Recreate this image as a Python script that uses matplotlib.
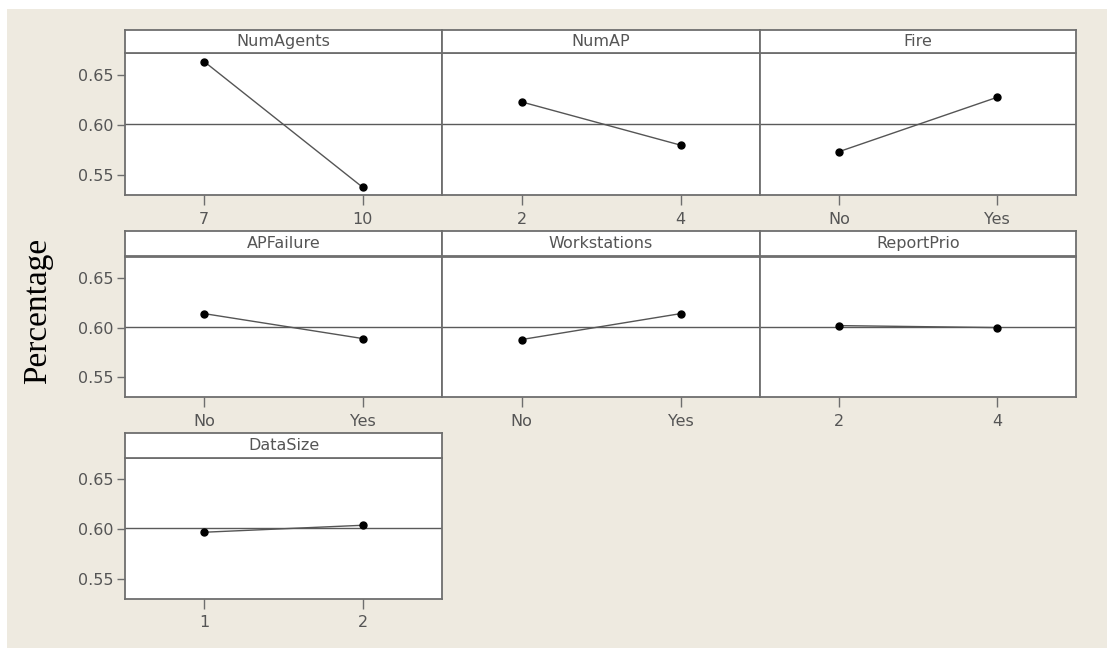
import matplotlib
matplotlib.use("Agg")
import matplotlib.pyplot as plt
from matplotlib.patches import Rectangle

# main effects: mean percentage at each factor level
factors = ["NumAgents", "NumAP", "Fire", "APFailure", "Workstations", "ReportPrio", "DataSize"]
levels = [["7", "10"], ["2", "4"], ["No", "Yes"], ["No", "Yes"],
          ["No", "Yes"], ["2", "4"], ["1", "2"]]
means = [[0.663, 0.538], [0.623, 0.580], [0.5735, 0.6275], [0.614, 0.589],
         [0.588, 0.614], [0.602, 0.600], [0.597, 0.604]]
grand_mean = 0.601
yticks = [0.55, 0.60, 0.65]

W, H = 1107, 648
BEIGE = "#EEEAE0"
FRAME = "#6E6E6E"
TXT = "#555555"

# panel geometry in pixels: (strip top, strip bottom, frame bottom) and (left, right)
rows = [(30, 53.3, 195), (230.7, 256.5, 397), (432.7, 458.3, 598.5)]
cols = [(125, 442), (442, 760), (760, 1076)]


def rect(x0, y0, x1, y1):
    return [x0 / W, 1 - y1 / H, (x1 - x0) / W, (y1 - y0) / H]


fig = plt.figure(figsize=(W / 100, H / 100), dpi=100)
fig.patch.set_facecolor("white")
fig.patches.append(Rectangle((7 / W, 0), 1 - 7 / W, 1 - 9 / H, transform=fig.transFigure,
                             facecolor=BEIGE, edgecolor="none", zorder=-5))

for i, name in enumerate(factors):
    r, c = divmod(i, 3)
    top, mid, bot = rows[r]
    x0, x1 = cols[c]

    ax = fig.add_axes(rect(x0, mid, x1, bot))
    ax.set_facecolor("white")
    ax.axhline(grand_mean, color="#5A5A5A", lw=1.0, zorder=1)
    ax.plot([0, 1], means[i], color="#555555", lw=1.0, marker="o",
            markersize=5, markerfacecolor="black", markeredgecolor="black", zorder=3)
    ax.set_xlim(-0.5, 1.5)
    ax.set_ylim(0.5304, 0.6713)
    ax.set_xticks([0, 1])
    ax.set_xticklabels(levels[i])
    ax.tick_params(axis="x", length=7, width=1, color=FRAME, labelcolor=TXT,
                   labelsize=11.5, pad=5)
    if c == 0:
        ax.set_yticks(yticks)
        ax.set_yticklabels(["%.2f" % v for v in yticks])
        ax.tick_params(axis="y", length=6, width=1, color=FRAME, labelcolor=TXT,
                       labelsize=11.5, pad=2)
    else:
        ax.set_yticks([])
    for s in ax.spines.values():
        s.set_color(FRAME)
        s.set_linewidth(1.3)

    st = fig.add_axes(rect(x0, top, x1, mid))
    st.set_facecolor("white")
    st.set_xticks([])
    st.set_yticks([])
    for s in st.spines.values():
        s.set_color(FRAME)
        s.set_linewidth(1.3)
    st.text(0.5, 0.5, name, transform=st.transAxes, ha="center", va="center",
            color=TXT, fontsize=11.5)

fig.text(38 / W, 1 - 311 / H, "Percentage", rotation=90, ha="center", va="center",
         family="Liberation Serif", fontsize=24, color="black")

fig.savefig("out.png", dpi=100)
